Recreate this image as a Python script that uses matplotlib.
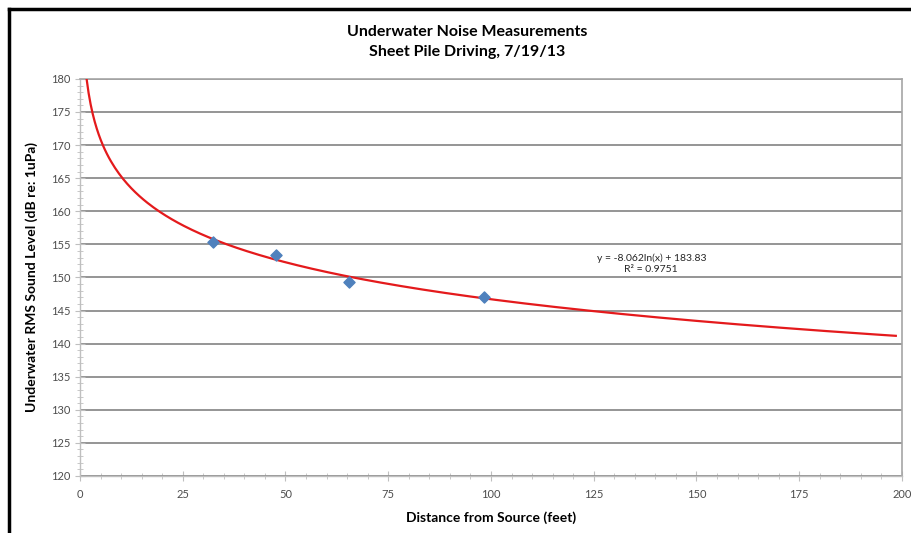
import numpy as np
import matplotlib
matplotlib.use("Agg")
import matplotlib.pyplot as plt
from matplotlib.lines import Line2D
from matplotlib.ticker import MultipleLocator

plt.rcParams['font.family'] = ['Lato', 'DejaVu Sans']

# measured points
distance_ft = [32.4, 47.6, 65.5, 98.4]
rms_db = [155.4, 153.4, 149.3, 147.0]

# log trendline reported on the chart
trend_a = -8.062
trend_b = 183.83
trend_r2 = 0.9751
trend_x_start = 1.61
trend_x_end = 198.5

fig = plt.figure(figsize=(9.12, 5.33), dpi=100)
ax = fig.add_axes([0.0877, 0.107, 0.9013, 0.745])

# trendline
tx = np.linspace(trend_x_start, trend_x_end, 400)
ty = trend_a * np.log(tx) + trend_b
ax.plot(tx, ty, color='#e41a1c', lw=1.6, zorder=3)

ax.scatter(distance_ft, rms_db, marker='D', s=32, color='#4f81bd', zorder=4,
           edgecolors='#4f81bd')

ax.set_xlim(0, 200)
ax.set_ylim(120, 180)
ax.xaxis.set_major_locator(MultipleLocator(25))
ax.xaxis.set_minor_locator(MultipleLocator(5))
ax.yaxis.set_major_locator(MultipleLocator(5))
ax.yaxis.set_minor_locator(MultipleLocator(1))

ax.grid(True, which='major', axis='y', color='#8c8c8c', lw=1.3)
ax.set_axisbelow(True)

for s in ['top', 'right']:
    ax.spines[s].set_color('#a6a6a6')
    ax.spines[s].set_linewidth(1.2)
for s in ['left', 'bottom']:
    ax.spines[s].set_color('#bfbfbf')
    ax.spines[s].set_linewidth(1.0)

ax.tick_params(which='major', direction='inout', length=7, color='#bfbfbf',
               labelsize=8, labelcolor='#4d4d4d')
ax.tick_params(which='minor', direction='inout', length=4, color='#bfbfbf')
ax.tick_params(axis='x', pad=6)

ax.set_xlabel("Distance from Source (feet)", fontsize=10, fontweight='bold',
              labelpad=8)
ax.set_ylabel("Underwater RMS Sound Level (dB re: 1uPa)", fontsize=10,
              fontweight='bold', labelpad=9)

fig.text(0.512, 0.921, "Underwater Noise Measurements\nSheet Pile Driving, 7/19/13",
         ha='center', va='center', fontsize=11.5, fontweight='bold',
         linespacing=1.55)

ax.text(139, 152.1, "y = %.3fln(x) + %.2f\nR² = %.4f" % (trend_a, trend_b, trend_r2),
        ha='center', va='center', fontsize=7.5, color='#262626', linespacing=1.2)

# screenshot frame
fig.add_artist(Line2D([9 / 912, 1], [1 - 9 / 533, 1 - 9 / 533],
                      transform=fig.transFigure, color='black', lw=2.5))
fig.add_artist(Line2D([9 / 912, 9 / 912], [0, 1 - 9 / 533],
                      transform=fig.transFigure, color='black', lw=2.5))

fig.savefig("out.png", dpi=100)
